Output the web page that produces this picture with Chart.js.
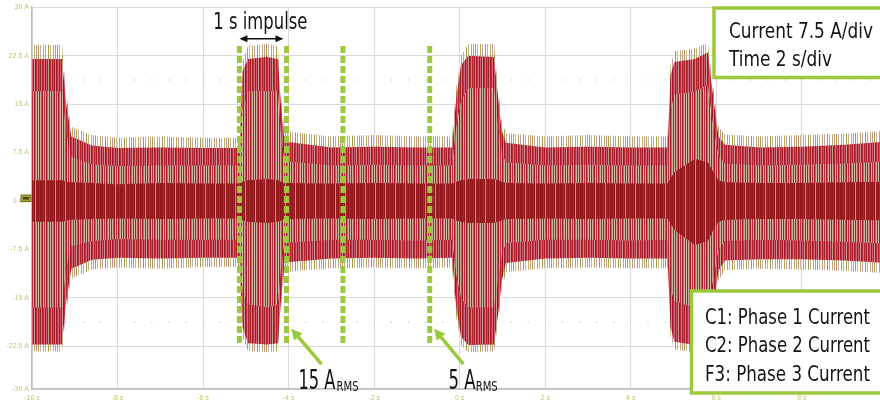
<!DOCTYPE html>
<html>
<head>
<meta charset="utf-8">
<script src="https://cdn.jsdelivr.net/npm/chart.js@4.4.1/dist/chart.umd.min.js"></script>
<style>
    html, body { margin: 0; padding: 0; background: #fff; overflow: hidden; }
    #wrap { width: 899px; height: 407px; }
</style>
</head>
<body>
<div id="wrap"><canvas id="scope"></canvas></div>
<script>
// envelope readings of the three phase currents (A), at these times (s)
const time = [-10, -9.3, -9.2, -9.08, -8.6, -8.0, -7.0, -6.0, -5.15, -5.08, -4.95, -4.5, -4.25, -4.18, -4.1,
    -3.0, -2.0, -1.0, -0.18, -0.08, 0.03, 0.2, 0.8, 0.9, 0.98, 1.08, 2.0, 3.0, 4.0,
    4.86, 4.93, 5.02, 5.5, 5.8, 5.93, 6.05, 6.2, 7.0, 8.0, 9.0, 10.0];

const spikeHi = [24.2, 24.2, 16.5, 11.5, 10.2, 9.8, 10.0, 9.8, 9.8, 21.5, 24.0, 24.3, 24.0, 16.5, 10.8,
    10.0, 10.2, 10.0, 10.0, 17.5, 22.5, 24.3, 24.3, 17.5, 12.5, 10.5, 10.0, 10.2, 10.0,
    10.0, 21.0, 23.2, 23.6, 24.5, 17.5, 11.5, 10.3, 10.0, 10.2, 10.4, 10.9];
const mainHi = [22.0, 22.0, 15.0, 10.0, 8.6, 8.2, 8.3, 8.2, 8.2, 20.0, 22.0, 22.3, 22.0, 15.0, 9.2,
    8.3, 8.4, 8.3, 8.3, 16.0, 21.0, 22.5, 22.3, 16.0, 11.0, 9.0, 8.3, 8.4, 8.3,
    8.3, 19.5, 21.5, 22.0, 23.0, 16.0, 10.0, 8.7, 8.3, 8.4, 8.7, 9.2];
const midHi = [17.0, 17.0, 10.5, 6.8, 5.7, 5.4, 5.5, 5.5, 5.5, 14.0, 17.0, 17.0, 17.0, 10.5, 6.2,
    5.5, 5.6, 5.5, 5.5, 11.5, 15.5, 17.5, 17.5, 11.5, 7.5, 6.0, 5.5, 5.6, 5.5,
    5.5, 14.0, 16.5, 17.0, 18.0, 11.5, 7.0, 5.8, 5.5, 5.6, 5.8, 6.1];
const coreHi = [3.2, 3.2, 3.0, 2.9, 2.8, 2.6, 2.8, 2.7, 2.7, 3.0, 3.2, 3.4, 3.2, 3.0, 2.8,
    2.7, 2.8, 2.7, 2.7, 3.0, 3.2, 3.4, 3.4, 3.2, 3.0, 2.8, 2.7, 2.8, 2.7,
    2.7, 3.5, 4.5, 6.5, 6.0, 4.5, 3.2, 2.9, 2.8, 2.8, 2.9, 3.0];
const coreLo = [-3.2, -3.2, -3.0, -2.9, -2.8, -2.7, -2.8, -2.7, -2.7, -3.0, -3.2, -3.4, -3.2, -3.0, -2.8,
    -2.7, -2.8, -2.7, -2.7, -3.0, -3.2, -3.4, -3.4, -3.2, -3.0, -2.8, -2.7, -2.8, -2.7,
    -2.7, -3.5, -4.5, -6.8, -6.2, -4.5, -3.2, -2.9, -2.8, -2.8, -2.9, -3.0];
const midLo = [-16.5, -16.5, -10.5, -7.0, -6.2, -5.9, -6.0, -6.0, -6.0, -13.5, -16.0, -16.5, -16.0, -10.5, -6.5,
    -6.0, -6.0, -6.1, -6.0, -11.5, -15.0, -16.5, -16.5, -12.0, -8.5, -6.5, -6.0, -6.0, -6.1,
    -6.0, -13.5, -15.5, -16.5, -16.5, -12.0, -7.5, -6.2, -6.0, -6.1, -6.3, -6.6];
const mainLo = [-22.2, -22.2, -15.5, -10.5, -9.1, -8.8, -8.9, -8.8, -8.8, -19.5, -22.0, -22.2, -22.0, -15.5, -9.5,
    -8.9, -8.8, -8.9, -8.8, -16.5, -21.0, -22.3, -22.2, -17.5, -12.5, -9.6, -8.9, -8.8, -8.9,
    -8.9, -19.5, -21.8, -22.3, -22.5, -16.5, -10.8, -9.2, -9.0, -9.0, -9.2, -9.6];
const spikeLo = [-23.3, -23.3, -17.0, -12.0, -10.6, -10.3, -10.5, -10.2, -10.2, -21.0, -23.2, -23.4, -23.2, -17.0, -11.0,
    -10.4, -10.3, -10.4, -10.3, -18.0, -22.3, -23.4, -23.3, -19.0, -14.0, -11.0, -10.4, -10.3, -10.4,
    -10.4, -21.0, -23.0, -23.4, -23.6, -18.0, -12.3, -10.7, -10.5, -10.6, -10.8, -11.2];

// cursor lines drawn on the screenshot
const markerTimes = [-5.15, -4.05, -2.73, -0.70];
const markerTop = 24.0;
const markerBottom = -22.0;

const xTickValues = [-10, -8, -6, -4, -2, 0, 2, 4, 6, 8, 10];
const xTickLabels = ['-10 s', '-8 s', '-6 s', '-4 s', '-2 s', '0 s', '2 s', '4 s', '6 s', '8 s', '10 s'];
const yTickValues = [-29.1, -22.5, -15, -7.5, 0, 7.5, 15, 22.5, 30];
const yTickLabels = ['-30 A', '-22.5 A', '-15 A', '-7.5 A', '0 mA', '7.5 A', '15 A', '22.5 A', '30 A'];

const GREEN = '#9cc93c';
const TICK = '#c9c26a';
const FONT = '"Liberation Sans Narrow", "DejaVu Sans Condensed", sans-serif';

const canvas = document.getElementById('scope');
const ctx = canvas.getContext('2d');

// vertical stripe fill, looks like the dense sampled sine
function stripes(colors) {
    const c = document.createElement('canvas');
    c.width = colors.length;
    c.height = 1;
    const g = c.getContext('2d');
    colors.forEach((col, i) => {
        if (col) { g.fillStyle = col; g.fillRect(i, 0, 1, 1); }
    });
    return ctx.createPattern(c, 'repeat');
}

const spikeFill = stripes(['#aaa04c', null, '#c6b39c', null, null, '#b3aa58', null, '#d89aa8', null, null, '#a59a44',
    null, '#c2b08e', null, null, '#b8ad66', null, '#cf8f9c', null]);
const outerFill = stripes(['#a51b25', '#c73048', '#d8687e', '#9b1a1f', '#d85a72', '#ab1f2a', '#c4a08e', '#961a1e',
    '#be2a3e', '#a3914e', '#b3222f', '#cf4a63', '#9e1b22', '#e07890']);
const midFill = stripes(['#cdb2a0', '#b02236', '#d4bcaa', '#a81d26', '#c9ab98', '#d0506a', '#9e1a20', '#d2b7a5',
    '#bd2c42', '#cbae9c', '#a51c25', '#d85e78']);
const coreFill = stripes(['#8f1419', '#a31c22', '#94171b', '#b0252e', '#8b1418', '#b8968a', '#9b181d', '#a71e26',
    '#8e1519', '#b42a36']);

const pts = arr => time.map((t, i) => ({ x: t, y: arr[i] }));

function band(hi, lo, fill, order) {
    return [
        { data: pts(hi), fill: '+1', backgroundColor: fill, borderWidth: 0, borderColor: 'transparent', pointRadius: 0, order: order },
        { data: pts(lo), fill: false, borderWidth: 0, borderColor: 'transparent', pointRadius: 0, order: order }
    ];
}

const datasets = [
    ...band(coreHi, coreLo, coreFill, 1),
    ...band(midHi, midLo, midFill, 2),
    ...band(mainHi, mainLo, outerFill, 3),
    ...band(spikeHi, spikeLo, spikeFill, 4),
    ...markerTimes.map(t => ({
        data: [{ x: t, y: markerTop }, { x: t, y: markerBottom }],
        borderColor: GREEN, borderWidth: 5, borderDash: [7, 3], borderCapStyle: 'butt',
        pointRadius: 0, fill: false, order: 0
    }))
];

function fitText(c, str, x, y, w, size) {
    c.font = size + 'px ' + FONT;
    const m = c.measureText(str).width;
    c.save();
    c.translate(x, y);
    c.scale(w / m, 1);
    c.fillStyle = '#141414';
    c.textAlign = 'left';
    c.textBaseline = 'alphabetic';
    c.fillText(str, 0, 0);
    c.restore();
}

function head(c, x0, y0, x1, y1, len, half, color) {
    const a = Math.atan2(y1 - y0, x1 - x0);
    c.save();
    c.translate(x1, y1);
    c.rotate(a);
    c.beginPath();
    c.moveTo(0, 0);
    c.lineTo(-len, -half);
    c.lineTo(-len, half);
    c.closePath();
    c.fillStyle = color;
    c.fill();
    c.restore();
}

function greenArrow(c, x0, y0, x1, y1) {
    const a = Math.atan2(y1 - y0, x1 - x0);
    c.save();
    c.strokeStyle = GREEN;
    c.lineWidth = 3.5;
    c.beginPath();
    c.moveTo(x0, y0);
    c.lineTo(x1 - Math.cos(a) * 8, y1 - Math.sin(a) * 8);
    c.stroke();
    c.restore();
    head(c, x0, y0, x1, y1, 11, 5.5, GREEN);
}

function box(c, x, y, w, h) {
    c.save();
    c.fillStyle = '#fff';
    c.fillRect(x, y, w, h);
    c.strokeStyle = GREEN;
    c.lineWidth = 3.5;
    c.strokeRect(x, y, w, h);
    c.restore();
}

const scopeDecor = {
    id: 'scopeDecor',
    beforeDatasetsDraw(chart) {
        const c = chart.ctx, xs = chart.scales.x, ys = chart.scales.y;
        c.save();
        c.fillStyle = '#c4c4c4';
        [18.75, -18.75].forEach(v => {
            const py = ys.getPixelForValue(v);
            for (let t = -10; t <= 10.001; t += 0.4) {
                c.fillRect(xs.getPixelForValue(t) - 0.5, py - 0.5, 1.2, 1.2);
            }
        });
        c.restore();
    },
    afterDatasetsDraw(chart) {
        const c = chart.ctx, xs = chart.scales.x, ys = chart.scales.y;
        const X = t => xs.getPixelForValue(t), Y = v => ys.getPixelForValue(v);

        // "1 s impulse" with double arrow
        fitText(c, '1 s impulse', X(-5.76), Y(26.6), 94, 23);
        const ay = Y(25.1), ax0 = X(-5.15), ax1 = X(-4.12);
        c.save();
        c.strokeStyle = '#111';
        c.lineWidth = 1.5;
        c.beginPath();
        c.moveTo(ax0 + 5, ay);
        c.lineTo(ax1 - 5, ay);
        c.stroke();
        c.restore();
        head(c, ax1, ay, ax0, ay, 8, 3.5, '#111');
        head(c, ax0, ay, ax1, ay, 8, 3.5, '#111');

        // RMS callouts
        greenArrow(c, X(-3.23), Y(-25.26), X(-3.94), Y(-19.76));
        greenArrow(c, X(0.087), Y(-25.26), X(-0.60), Y(-19.76));
        fitText(c, '15 A', X(-3.77), Y(-29.1), 37, 26);
        fitText(c, 'RMS', X(-2.88), Y(-29.4), 22, 14);
        fitText(c, '5 A', X(-0.26), Y(-29.1), 27, 26);
        fitText(c, 'RMS', X(0.375), Y(-29.4), 22, 14);

        // scale box and channel box
        box(c, 714, 8, 200, 69.5);
        fitText(c, 'Current 7.5 A/div', 729, 38, 144, 21);
        fitText(c, 'Time 2 s/div', 729, 66, 103, 21);
        box(c, 691.5, 291, 220, 102);
        fitText(c, 'C1: Phase 1 Current', 705, 323.5, 165, 21);
        fitText(c, 'C2: Phase 2 Current', 705, 352, 165, 21);
        fitText(c, 'F3: Phase 3 Current', 705, 380.5, 165, 21);
    },
    afterDraw(chart) {
        // channel ground tag on the left axis
        const c = chart.ctx, ys = chart.scales.y;
        const py = ys.getPixelForValue(0);
        c.save();
        c.fillStyle = '#aaa53a';
        c.strokeStyle = '#74701e';
        c.lineWidth = 1;
        c.fillRect(21, py - 6, 10, 6.5);
        c.strokeRect(21, py - 6, 10, 6.5);
        c.fillStyle = '#4a4810';
        c.fillRect(23, py - 4, 6, 2.5);
        c.restore();
    }
};

new Chart(canvas, {
    type: 'line',
    data: { datasets: datasets },
    options: {
        responsive: true,
        maintainAspectRatio: false,
        animation: false,
        events: [],
        layout: { padding: { top: 5, left: 0, right: 0, bottom: 0 } },
        elements: { line: { tension: 0 } },
        plugins: { legend: { display: false }, tooltip: { enabled: false } },
        scales: {
            x: {
                type: 'linear',
                min: -10,
                max: 10,
                afterBuildTicks: s => { s.ticks = xTickValues.map(v => ({ value: v })); },
                afterFit: s => { s.height = 18; },
                ticks: {
                    callback: (v, i) => xTickLabels[i],
                    color: TICK,
                    font: { size: 7, family: 'Liberation Sans' },
                    padding: 5,
                    maxRotation: 0,
                    autoSkip: false
                },
                grid: { color: '#dadada', drawTicks: false },
                border: { color: '#bdbdbd', width: 1.5 }
            },
            y: {
                min: -29.1,
                max: 30,
                afterBuildTicks: s => { s.ticks = yTickValues.map(v => ({ value: v })); },
                afterFit: s => { s.width = 32; },
                ticks: {
                    callback: (v, i) => yTickLabels[i],
                    color: TICK,
                    font: { size: 7, family: 'Liberation Sans' },
                    padding: 3,
                    autoSkip: false
                },
                grid: { color: '#dadada', drawTicks: false },
                border: { color: '#bdbdbd', width: 1.5 }
            }
        }
    },
    plugins: [scopeDecor]
});
</script>
</body>
</html>
